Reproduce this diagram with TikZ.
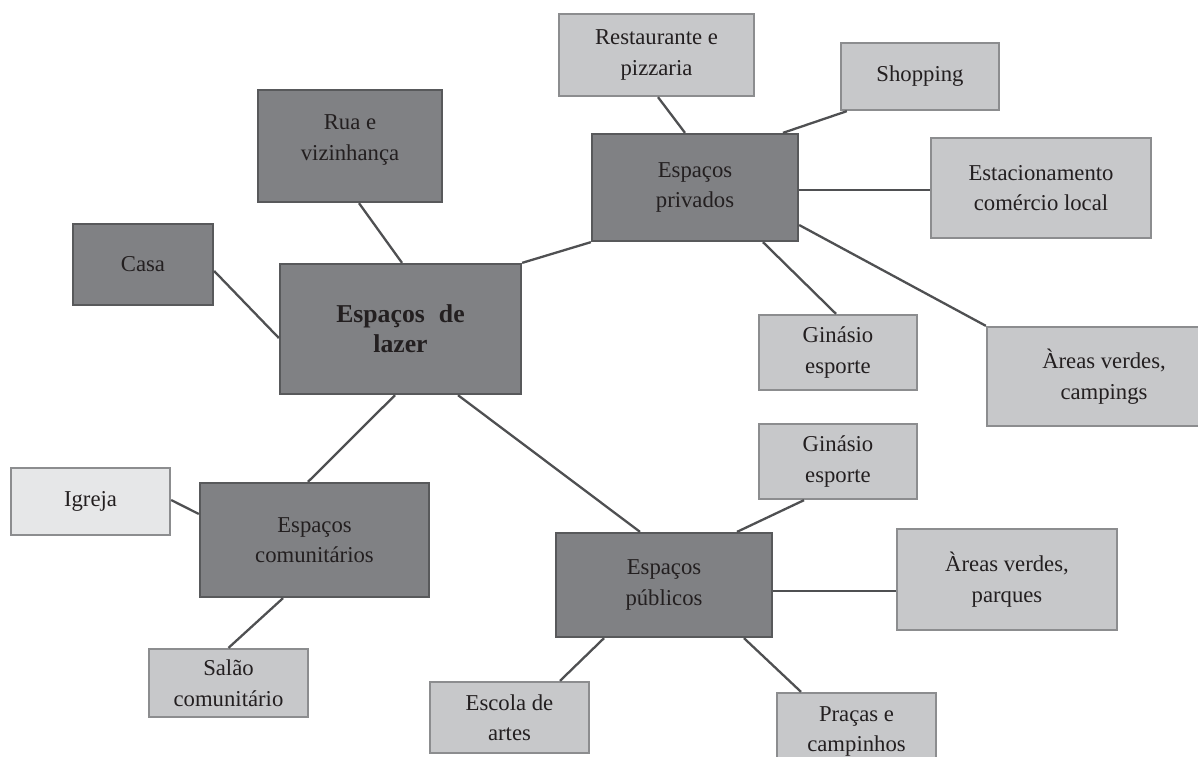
\documentclass[tikz,border=0pt]{standalone}
\usepackage{fontspec}
\setmainfont{Liberation Serif}
\definecolor{dfill}{HTML}{808184}
\definecolor{dline}{HTML}{58595B}
\definecolor{lfill}{HTML}{C7C8CA}
\definecolor{lline}{HTML}{8C8D8F}
\definecolor{vfill}{HTML}{E6E7E8}
\definecolor{txt}{HTML}{231F20}
\definecolor{conn}{HTML}{4F5052}
\tikzset{
  base/.style={draw, line width=2.3pt, inner sep=0pt, align=center, text=txt,
    font=\fontsize{22.7}{30.5}\selectfont},
  dbox/.style={base, fill=dfill, draw=dline},
  lbox/.style={base, fill=lfill, draw=lline},
  vbox/.style={base, fill=vfill, draw=lline},
  lbl/.style={align=center, text=txt, inner sep=0pt, font=\fontsize{22.7}{30.5}\selectfont},
  conn/.style={draw=conn, line width=2.3pt},
  sz/.style 2 args={minimum width=#1pt, minimum height=#2pt}
}
\begin{document}
\begin{tikzpicture}[x=1pt, y=-1pt]
\useasboundingbox (0,0) rectangle (1198,756);
% main
\node[dbox, sz={241}{130}, font=\bfseries\fontsize{25.7}{30}\selectfont] (lazer) at (400.5,329) {Espaços\hspace{0.55em}de\\lazer};
\node[dbox, sz={184}{112}] (rua) at (350,146) {};
\node[lbl] (ruat) at (350,140) {Rua e\\vizinhança};
\node[dbox, sz={140}{81}] (casa) at (143,264.5) {Casa};
\node[dbox, sz={206}{107}] (priv) at (695,187.5) {Espaços\\privados};
\node[dbox, sz={216}{104}] (pub) at (664,585) {Espaços\\públicos};
\node[dbox, sz={229}{114}] (com) at (314.5,540) {Espaços\\comunitários};
% private
\node[lbox, sz={195}{82}] (rest) at (656.5,55) {Restaurante e\\pizzaria};
\node[lbox, sz={158}{67}] (shop) at (920,76.5) {Shopping};
\node[lbox, sz={220}{100}] (estac) at (1041,188) {Estacionamento\\comércio local};
\node[lbox, sz={158}{75}] (gin1) at (838,352.5) {Ginásio\\esporte};
\node[lbox, sz={234}{99}] (camp) at (1104,376.5) {Àreas verdes,\\campings};
% public
\node[lbox, sz={158}{75}] (gin2) at (838,461.5) {Ginásio\\esporte};
\node[lbox, sz={220}{101}] (parq) at (1007,579.5) {Àreas verdes,\\parques};
\node[lbox, sz={159}{77}] (prac) at (856.5,731.5) {Praças e\\campinhos};
\node[lbox, sz={159}{71}] (esc) at (509.5,717.5) {Escola de\\artes};
% community
\node[vbox, sz={159}{67}] (igr) at (90.5,501.5) {Igreja};
\node[lbox, sz={159}{68}] (sal) at (228.5,683) {Salão\\comunitário};
% connectors
\draw[conn] ([yshift=-6.5pt]casa.east) -- ([yshift=-9pt]lazer.west);
\draw[conn] ([xshift=9pt]rua.south) -- ([xshift=1.5pt]lazer.north);
\draw[conn] (lazer.north east) -- (priv.south west);
\draw[conn] ([xshift=-10pt]priv.north) -- ([xshift=1.5pt]rest.south);
\draw[conn] ([xshift=88pt]priv.north) -- ([xshift=7pt]shop.south west);
\draw[conn] ([yshift=-2.5pt]priv.east) -- ([yshift=-2pt]estac.west);
\draw[conn] ([xshift=68pt]priv.south) -- ([xshift=-2pt]gin1.north);
\draw[conn] ([yshift=-37.5pt]priv.east) -- (camp.north west);
\draw[conn] ([xshift=57.5pt]lazer.south) -- ([xshift=-24pt]pub.north);
\draw[conn] ([xshift=-5.5pt]lazer.south) -- ([xshift=-6.5pt]com.north);
\draw[conn] ([yshift=1.5pt]igr.east) -- ([yshift=26pt]com.west);
\draw[conn] ([xshift=-31.5pt]com.south) -- (sal.north);
\draw[conn] ([xshift=73pt]pub.north) -- ([xshift=-34pt]gin2.south);
\draw[conn] ([yshift=-6pt]pub.east) -- ([yshift=-11.5pt]parq.west);
\draw[conn] ([xshift=80pt]pub.south) -- ([xshift=-55.5pt]prac.north);
\draw[conn] ([xshift=-60pt]pub.south) -- ([xshift=50.5pt]esc.north);
\end{tikzpicture}
\end{document}
